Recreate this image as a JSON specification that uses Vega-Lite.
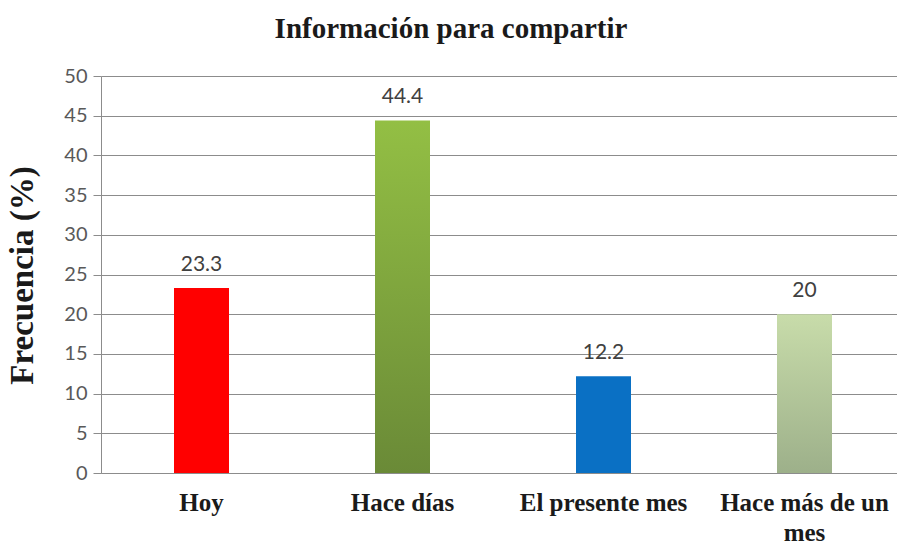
{
  "$schema": "https://vega.github.io/schema/vega-lite/v6.json",
  "autosize": "none",
  "padding": {"left": 101, "top": 76, "right": 0, "bottom": 72},
  "width": 804,
  "height": 397,
  "background": "white",
  "config": {"view": {"stroke": null}},
  "title": {
    "text": "Información para compartir",
    "font": "Liberation Serif",
    "fontSize": 29,
    "fontWeight": "bold",
    "color": "#1a1a1a",
    "anchor": "middle",
    "dx": -52,
    "offset": 22
  },
  "data": {
    "values": [
      {"periodo": "Hoy", "frecuencia": 23.3},
      {"periodo": "Hace días", "frecuencia": 44.4},
      {"periodo": "El presente mes", "frecuencia": 12.2},
      {"periodo": "Hace más de un mes", "frecuencia": 20}
    ]
  },
  "encoding": {
    "x": {
      "field": "periodo",
      "type": "nominal",
      "sort": null,
      "scale": {"domain": ["Hoy", "Hace días", "El presente mes", "Hace más de un mes"], "paddingInner": 0, "paddingOuter": 0},
      "axis": {
        "title": null,
        "labelAngle": 0,
        "labelFont": "Liberation Serif",
        "labelFontWeight": "bold",
        "labelFontSize": 25,
        "labelColor": "#1a1a1a",
        "labelPadding": 17,
        "labelLineHeight": 30,
        "labelLimit": 300,
        "ticks": false,
        "domainColor": "#8c8c8c",
        "domainWidth": 1,
        "labelExpr": "datum.value == 'Hace más de un mes' ? ['Hace más de un', 'mes'] : datum.label"
      }
    },
    "y": {
      "field": "frecuencia",
      "type": "quantitative",
      "scale": {"domain": [0, 50]},
      "axis": {
        "title": "Frecuencia (%)",
        "titleFont": "Liberation Serif",
        "titleFontWeight": "bold",
        "titleFontSize": 33,
        "titleColor": "#1a1a1a",
        "titleAngle": -90,
        "titleX": -79,
        "titleY": 199,
        "titleAlign": "center",
        "titleBaseline": "middle",
        "values": [0, 5, 10, 15, 20, 25, 30, 35, 40, 45, 50],
        "labelFont": "Lato",
        "labelFontSize": 20,
        "labelColor": "#595959",
        "labelPadding": 6,
        "tickSize": 8,
        "tickColor": "#8c8c8c",
        "domainColor": "#8c8c8c",
        "grid": true,
        "gridColor": "#8c8c8c",
        "gridWidth": 1
      }
    }
  },
  "layer": [
    {
      "transform": [{"filter": "datum.periodo == 'Hoy'"}],
      "mark": {"type": "bar", "size": 55, "color": "#ff0000"}
    },
    {
      "transform": [{"filter": "datum.periodo == 'Hace días'"}],
      "mark": {
        "type": "bar",
        "size": 55,
        "color": {
          "gradient": "linear",
          "x1": 0, "y1": 0, "x2": 0, "y2": 1,
          "stops": [
            {"offset": 0, "color": "#93bf44"},
            {"offset": 1, "color": "#6a8a37"}
          ]
        }
      }
    },
    {
      "transform": [{"filter": "datum.periodo == 'El presente mes'"}],
      "mark": {"type": "bar", "size": 55, "color": "#0a70c4"}
    },
    {
      "transform": [{"filter": "datum.periodo == 'Hace más de un mes'"}],
      "mark": {
        "type": "bar",
        "size": 55,
        "color": {
          "gradient": "linear",
          "x1": 0, "y1": 0, "x2": 0, "y2": 1,
          "stops": [
            {"offset": 0, "color": "#c8dcaa"},
            {"offset": 1, "color": "#9db08a"}
          ]
        }
      }
    },
    {
      "mark": {
        "type": "text",
        "baseline": "bottom",
        "dy": -13,
        "font": "Lato",
        "fontSize": 21,
        "color": "#404040"
      },
      "encoding": {"text": {"field": "frecuencia", "type": "quantitative"}}
    }
  ]
}
